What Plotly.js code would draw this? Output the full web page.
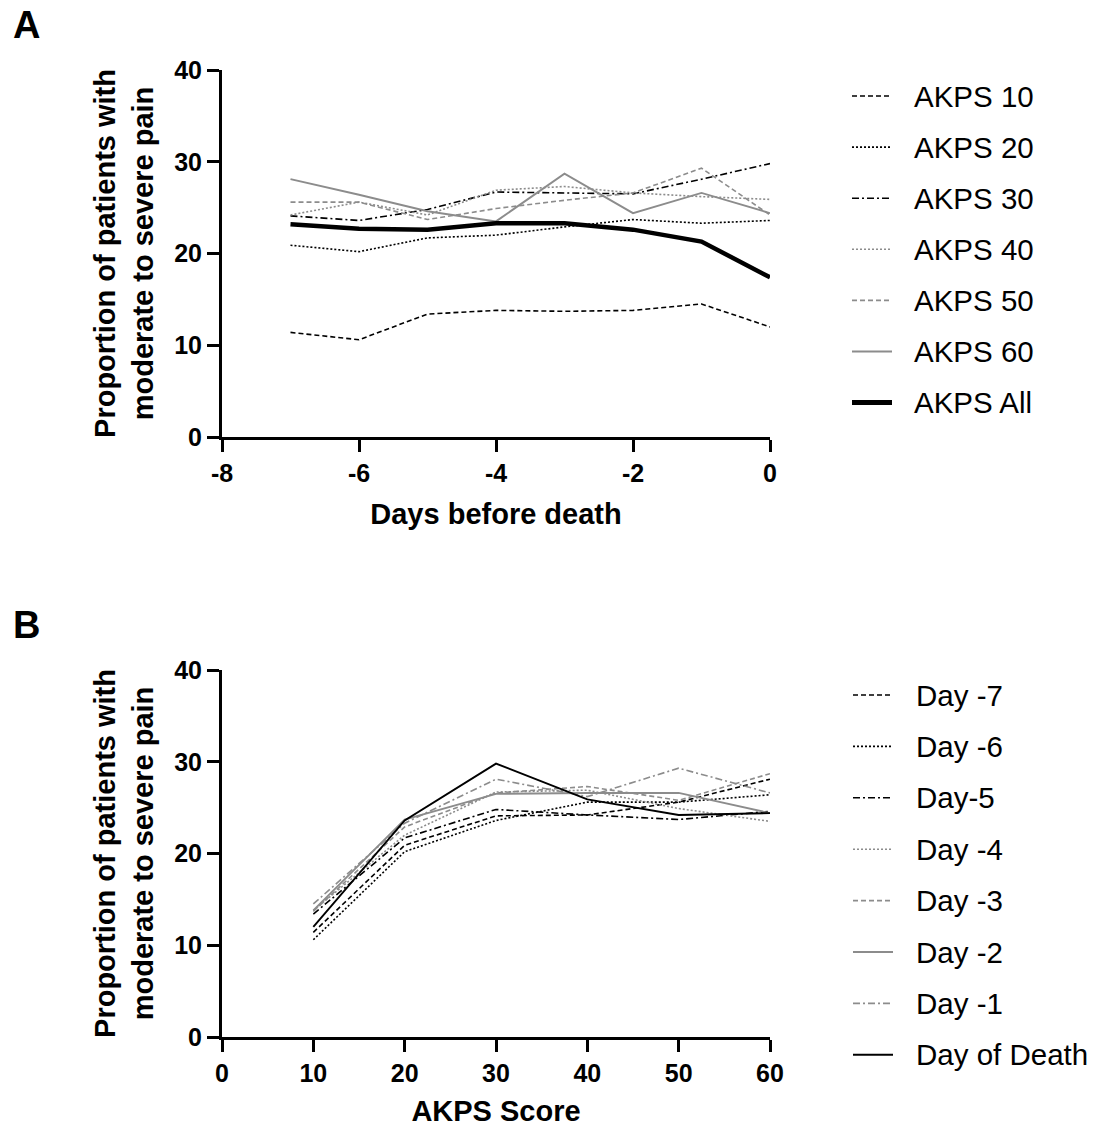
<!DOCTYPE html>
<html><head><meta charset="utf-8">
<script src="https://cdn.plot.ly/plotly-3.0.1.min.js"></script>
<style>html,body{margin:0;padding:0;background:#fff}</style>
</head><body><div id="chart" style="width:1098px;height:1131px"></div>
<script>
// ---- Data ----
const days = [-7, -6, -5, -4, -3, -2, -1, 0];
const akps10  = [11.4, 10.6, 13.4, 13.8, 13.7, 13.8, 14.5, 12.0];
const akps20  = [20.9, 20.2, 21.7, 22.0, 22.9, 23.7, 23.3, 23.6];
const akps30  = [24.1, 23.6, 24.8, 26.7, 26.6, 26.5, 28.1, 29.8];
const akps40  = [24.2, 25.6, 24.2, 26.9, 27.3, 26.6, 26.2, 25.9];
const akps50  = [25.6, 25.6, 23.7, 24.9, 25.8, 26.6, 29.3, 24.2];
const akps60  = [28.1, 26.4, 24.6, 23.5, 28.7, 24.4, 26.6, 24.4];
const akpsAll = [23.2, 22.7, 22.6, 23.3, 23.3, 22.6, 21.3, 17.4];
const namesA = ['AKPS 10', 'AKPS 20', 'AKPS 30', 'AKPS 40', 'AKPS 50', 'AKPS 60', 'AKPS All'];
const akpsScores = [10, 20, 30, 40, 50, 60];
const namesB = ['Day -7', 'Day -6', 'Day-5', 'Day -4', 'Day -3', 'Day -2', 'Day -1', 'Day of Death'];
const ticksA = [-8, -6, -4, -2, 0];
const tickLabelsA = ['-8', '-6', '-4', '-2', '0'];
const ticksB = [0, 10, 20, 30, 40, 50, 60];
const ticksY = [0, 10, 20, 30, 40];

// ---- Styles ----
const F = 'Arial, "Liberation Sans", sans-serif';
const GRAY = '#8c8c8c';
const DASH = '5px,3px', DOT = '2px,2px', DASHDOT = '7px,3px,2px,3px';
const stylesA = [
  {color: '#000', dash: DASH, width: 1.6},
  {color: '#000', dash: DOT, width: 1.6},
  {color: '#000', dash: DASHDOT, width: 1.6},
  {color: GRAY, dash: DOT, width: 1.6},
  {color: GRAY, dash: DASH, width: 1.6},
  {color: GRAY, dash: 'solid', width: 1.9},
  {color: '#000', dash: 'solid', width: 4.5}
];
const stylesB = [
  {color: '#000', dash: DASH, width: 1.6},
  {color: '#000', dash: DOT, width: 1.6},
  {color: '#000', dash: DASHDOT, width: 1.6},
  {color: GRAY, dash: DOT, width: 1.6},
  {color: GRAY, dash: DASH, width: 1.6},
  {color: GRAY, dash: 'solid', width: 1.9},
  {color: GRAY, dash: DASHDOT, width: 1.6},
  {color: '#000', dash: 'solid', width: 1.9}
];

const seriesA = [akps10, akps20, akps30, akps40, akps50, akps60, akpsAll];
const perAkps = [akps10, akps20, akps30, akps40, akps50, akps60];

const traces = [];
seriesA.forEach((ys, i) => {
  traces.push({type: 'scatter', mode: 'lines', x: days, y: ys, name: namesA[i],
    xaxis: 'x', yaxis: 'y', line: stylesA[i], showlegend: false, hoverinfo: 'skip'});
});
days.forEach((d, j) => {
  traces.push({type: 'scatter', mode: 'lines', x: akpsScores, y: perAkps.map(s => s[j]),
    name: namesB[j], xaxis: 'x2', yaxis: 'y2', line: stylesB[j], showlegend: false, hoverinfo: 'skip'});
});

// ---- Layout geometry (pixels -> paper) ----
const W = 1098, H = 1131;
const M = {l: 222, r: 328, t: 70, b: 94};
const PW = W - M.l - M.r, PH = H - M.t - M.b;
const px = x => (x - M.l) / PW;
const py = y => 1 - (y - M.t) / PH;

const shapes = [], annotations = [];
function legend(names, styles, y0, step, lx0, lx1, tx) {
  names.forEach((n, i) => {
    const y = y0 + i * step;
    const st = styles[i];
    shapes.push({type: 'line', xref: 'paper', yref: 'paper', x0: px(lx0), x1: px(lx1), y0: py(y), y1: py(y),
      line: {color: st.color, width: st.width === 4.5 ? 5 : st.width, dash: st.dash}});
    annotations.push({xref: 'paper', yref: 'paper', x: px(tx), y: py(y), xanchor: 'left', yanchor: 'middle',
      text: n, showarrow: false, font: {family: F, size: 29.5, color: '#000'}});
  });
}
legend(namesA, stylesA, 96, 51.1, 852, 892, 912);
legend(namesB, stylesB, 695, 51.4, 853, 893, 914);

annotations.push({xref: 'paper', yref: 'paper', x: px(26), y: py(25), xanchor: 'center', yanchor: 'middle',
  text: 'A', showarrow: false, font: {family: F, size: 38, weight: 'bold', color: '#000'}});
annotations.push({xref: 'paper', yref: 'paper', x: px(26), y: py(625), xanchor: 'center', yanchor: 'middle',
  text: 'B', showarrow: false, font: {family: F, size: 38, weight: 'bold', color: '#000'}});

const tickfont = {family: F, size: 25, weight: 'bold', color: '#000'};
const titlefont = {family: F, size: 29, weight: 'bold', color: '#000'};
const ax = {showline: true, linecolor: '#000', linewidth: 3, ticks: 'outside', ticklen: 12, tickwidth: 3,
  tickcolor: '#000', showgrid: false, zeroline: false, tickfont: tickfont, automargin: false, fixedrange: true};
const ytitle = 'Proportion of patients with<br>moderate to severe pain';
const botA = 367, topB = 600;

const layout = {
  width: W, height: H, margin: M, paper_bgcolor: '#fff', plot_bgcolor: '#fff',
  showlegend: false, font: {family: F, color: '#000'},
  xaxis: Object.assign({}, ax, {domain: [0, 1], anchor: 'y', range: [-8, 0], tickvals: ticksA, ticktext: tickLabelsA,
    title: {text: 'Days before death', font: titlefont, standoff: 18}}),
  yaxis: Object.assign({}, ax, {domain: [1 - botA / PH, 1], anchor: 'x', range: [0, 40], tickvals: ticksY,
    title: {text: ytitle, font: titlefont, standoff: 13}}),
  xaxis2: Object.assign({}, ax, {domain: [0, 1], anchor: 'y2', range: [0, 60], tickvals: ticksB,
    title: {text: 'AKPS Score', font: titlefont, standoff: 15}}),
  yaxis2: Object.assign({}, ax, {domain: [0, 1 - topB / PH], anchor: 'x2', range: [0, 40], tickvals: ticksY,
    title: {text: ytitle, font: titlefont, standoff: 13}}),
  shapes: shapes, annotations: annotations
};
Plotly.newPlot('chart', traces, layout, {staticPlot: true, displayModeBar: false});
</script></body></html>
